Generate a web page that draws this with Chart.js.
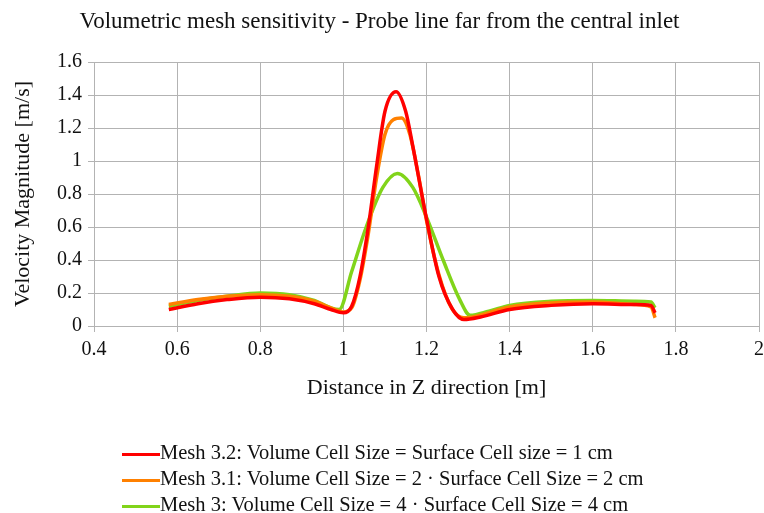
<!DOCTYPE html>
<html>
<head>
<meta charset="utf-8">
<script src="https://cdn.jsdelivr.net/npm/chart.js@4"></script>
<style>
  body { margin: 0; background: #fff; }
  #wrap { position: relative; width: 764px; height: 513px; }
  #legend { position: absolute; left: 122px; top: 439px; font-family: "Liberation Serif", serif; font-size: 20.5px; color: #111; }
  #legend div { height: 26px; line-height: 26px; white-space: nowrap; }
  #legend span.swatch { display: inline-block; width: 38px; height: 3px; vertical-align: middle; margin-right: 0; }
</style>
</head>
<body>
<div id="wrap">
  <canvas id="chart" width="764" height="513"></canvas>
  <div id="legend"></div>
</div>
<script>
// Series (distance in m, velocity in m/s)
const labels = [
  'Mesh 3.2: Volume Cell Size = Surface Cell size = 1 cm',
  'Mesh 3.1: Volume Cell Size = 2 · Surface Cell Size = 2 cm',
  'Mesh 3: Volume Cell Size = 4 · Surface Cell Size = 4 cm'
];
const colors = ['#ff0000', '#ff8000', '#81d41a'];

const mesh32X = [0.58, 0.65, 0.72, 0.8, 0.87, 0.93, 0.97, 1.0, 1.02, 1.04, 1.06, 1.08, 1.1, 1.127, 1.15, 1.167, 1.2, 1.23, 1.263, 1.29, 1.33, 1.4, 1.5, 1.6, 1.7, 1.74, 1.75];
const mesh32Y = [0.10, 0.135, 0.16, 0.175, 0.165, 0.135, 0.10, 0.08, 0.12, 0.30, 0.60, 0.97, 1.30, 1.42, 1.30, 1.09, 0.65, 0.30, 0.10, 0.04, 0.055, 0.10, 0.125, 0.135, 0.13, 0.125, 0.08];

const mesh31X = [0.58, 0.65, 0.72, 0.8, 0.87, 0.93, 0.97, 1.0, 1.02, 1.04, 1.06, 1.08, 1.1, 1.12, 1.14, 1.16, 1.18, 1.2, 1.23, 1.26, 1.29, 1.32, 1.4, 1.5, 1.6, 1.7, 1.74, 1.75];
const mesh31Y = [0.13, 0.16, 0.18, 0.19, 0.18, 0.15, 0.11, 0.085, 0.11, 0.28, 0.56, 0.90, 1.16, 1.25, 1.26, 1.16, 0.92, 0.64, 0.31, 0.11, 0.05, 0.06, 0.115, 0.14, 0.145, 0.13, 0.115, 0.05];

const mesh3X = [0.58, 0.65, 0.72, 0.8, 0.87, 0.93, 0.97, 0.99, 1.02, 1.055, 1.095, 1.13, 1.167, 1.2, 1.24, 1.28, 1.305, 1.35, 1.4, 1.5, 1.6, 1.7, 1.74, 1.75];
const mesh3Y = [0.12, 0.155, 0.18, 0.20, 0.19, 0.155, 0.11, 0.10, 0.33, 0.60, 0.84, 0.925, 0.84, 0.66, 0.40, 0.16, 0.065, 0.09, 0.125, 0.15, 0.155, 0.15, 0.145, 0.11];

const seriesX = [mesh32X, mesh31X, mesh3X];
const seriesY = [mesh32Y, mesh31Y, mesh3Y];

const FONT = '"Liberation Serif", serif';
const TXT = '#111';
const GRID = '#b3b3b3';

const datasets = labels.map((label, i) => ({
  label: label,
  data: seriesX[i].map((x, j) => ({ x: x, y: seriesY[i][j] })),
  borderColor: colors[i],
  backgroundColor: colors[i],
  borderWidth: 3.5,
  pointRadius: 0,
  cubicInterpolationMode: 'monotone',
  fill: false
}));

const fmt = v => String(Math.round(v * 10) / 10);

new Chart(document.getElementById('chart'), {
  type: 'line',
  data: { datasets: datasets },
  options: {
    responsive: false,
    animation: false,
    layout: { padding: { left: 0, right: 5, top: 0, bottom: 107 } },
    plugins: {
      legend: { display: false },
      tooltip: { enabled: false },
      title: {
        display: true,
        text: 'Volumetric mesh sensitivity - Probe line far from the central inlet',
        color: TXT,
        font: { family: FONT, size: 23, weight: 'normal', lineHeight: 1.2 },
        padding: { top: 8, bottom: 26.4 }
      }
    },
    scales: {
      x: {
        type: 'linear',
        min: 0.4,
        max: 2,
        afterFit: s => { s.height = 80; s.paddingRight = 0; s.paddingLeft = 0; },
        ticks: { stepSize: 0.2, color: TXT, font: { family: FONT, size: 20 }, padding: 6, maxRotation: 0, callback: fmt },
        grid: { color: GRID, tickColor: GRID, tickLength: 6 },
        border: { color: GRID },
        title: { display: true, text: 'Distance in Z direction [m]', color: TXT, font: { family: FONT, size: 22, lineHeight: 1.2 }, padding: { top: 4, bottom: 5 } }
      },
      y: {
        min: 0,
        max: 1.6,
        afterFit: s => { s.width = 94; },
        ticks: { stepSize: 0.2, color: TXT, font: { family: FONT, size: 20 }, padding: 6, callback: fmt },
        grid: { color: GRID, tickColor: GRID, tickLength: 6 },
        border: { color: GRID },
        title: { display: true, text: 'Velocity Magnitude [m/s]', color: TXT, font: { family: FONT, size: 22, lineHeight: 1.2 }, padding: { top: 10, bottom: 4 } }
      }
    }
  }
});

// Legend below the plot, stacked and left aligned
const legendEl = document.getElementById('legend');
labels.forEach((label, i) => {
  const row = document.createElement('div');
  const sw = document.createElement('span');
  sw.className = 'swatch';
  sw.style.background = colors[i];
  row.appendChild(sw);
  row.appendChild(document.createTextNode(label));
  legendEl.appendChild(row);
});
</script>
</body>
</html>
